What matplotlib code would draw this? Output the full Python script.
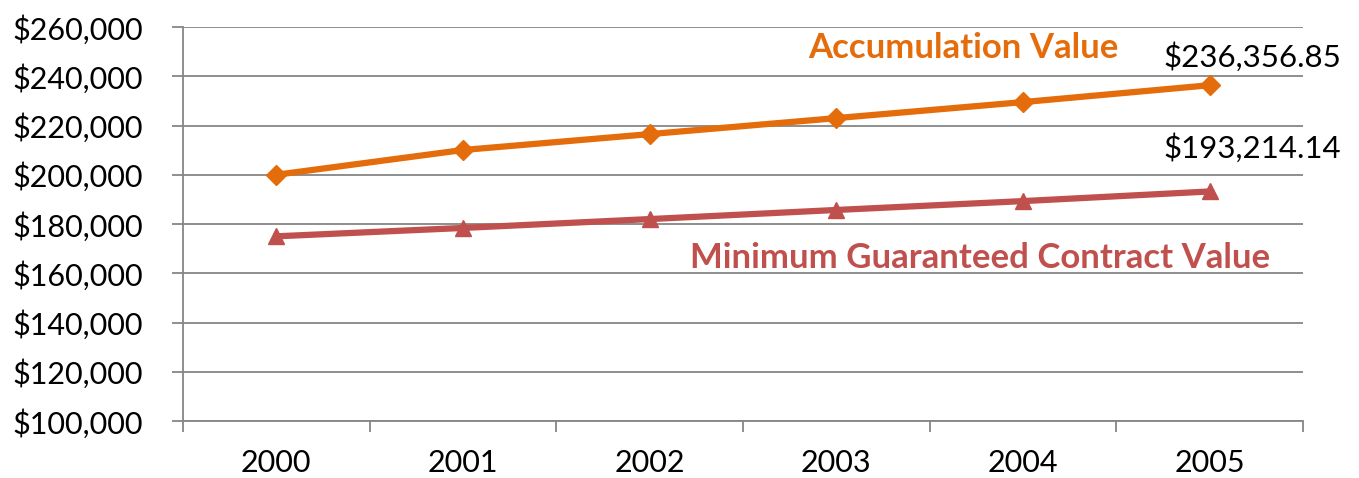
import matplotlib.pyplot as plt
from matplotlib.ticker import FuncFormatter, FixedLocator

# data
years = ["2000", "2001", "2002", "2003", "2004", "2005"]
accumulation = [200000, 210050, 216500, 223000, 229500, 236356.85]
minimum = [175000, 178400, 182000, 185700, 189300, 193214.14]

orange = "#E46C0A"
red = "#C0504D"
grid_col = "#868686"

plt.rcParams['font.family'] = ['Lato', 'DejaVu Sans']

fig = plt.figure(figsize=(13.59, 4.78), dpi=100)
ax = fig.add_axes([183 / 1359, 57 / 478, 1120 / 1359, 394 / 478])

x = list(range(len(years)))
ax.plot(x, accumulation, color=orange, lw=4.5, marker="D", ms=10, zorder=3)
ax.plot(x, minimum, color=red, lw=4.5, marker="^", ms=11, zorder=3)

ax.set_xlim(-0.5, len(years) - 0.5)
ax.set_ylim(100000, 260000)
ax.set_yticks(range(100000, 260001, 20000))
ax.yaxis.set_major_formatter(FuncFormatter(lambda v, p: "${:,.0f}".format(v)))
ax.grid(axis="y", color=grid_col, lw=1.3)
ax.set_axisbelow(True)

ax.set_xticks(x)
ax.set_xticklabels(years)
ax.xaxis.set_minor_locator(FixedLocator([i - 0.5 for i in range(len(years) + 1)]))
ax.tick_params(axis="x", which="major", length=0, pad=20, labelsize=22)
ax.tick_params(axis="x", which="minor", length=8, width=1.3, color=grid_col, direction="out")
ax.tick_params(axis="y", length=8, width=1.3, color=grid_col, pad=21, labelsize=22)

for s in ["top", "right"]:
    ax.spines[s].set_visible(False)
for s in ["left", "bottom"]:
    ax.spines[s].set_color(grid_col)
    ax.spines[s].set_linewidth(1.3)

# series labels
ax.text(3.68, 251500, "Accumulation Value", color=orange, fontsize=25,
        fontweight="bold", ha="center", va="center")
ax.text(3.77, 166200, "Minimum Guaranteed Contract Value", color=red, fontsize=25,
        fontweight="bold", ha="center", va="center")

# data labels on last points
ax.text(5.23, 247800, "${:,.2f}".format(accumulation[-1]), fontsize=22.5,
        ha="center", va="center", clip_on=False)
ax.text(5.23, 210900, "${:,.2f}".format(minimum[-1]), fontsize=22.5,
        ha="center", va="center", clip_on=False)

fig.savefig("out.png", dpi=100)
